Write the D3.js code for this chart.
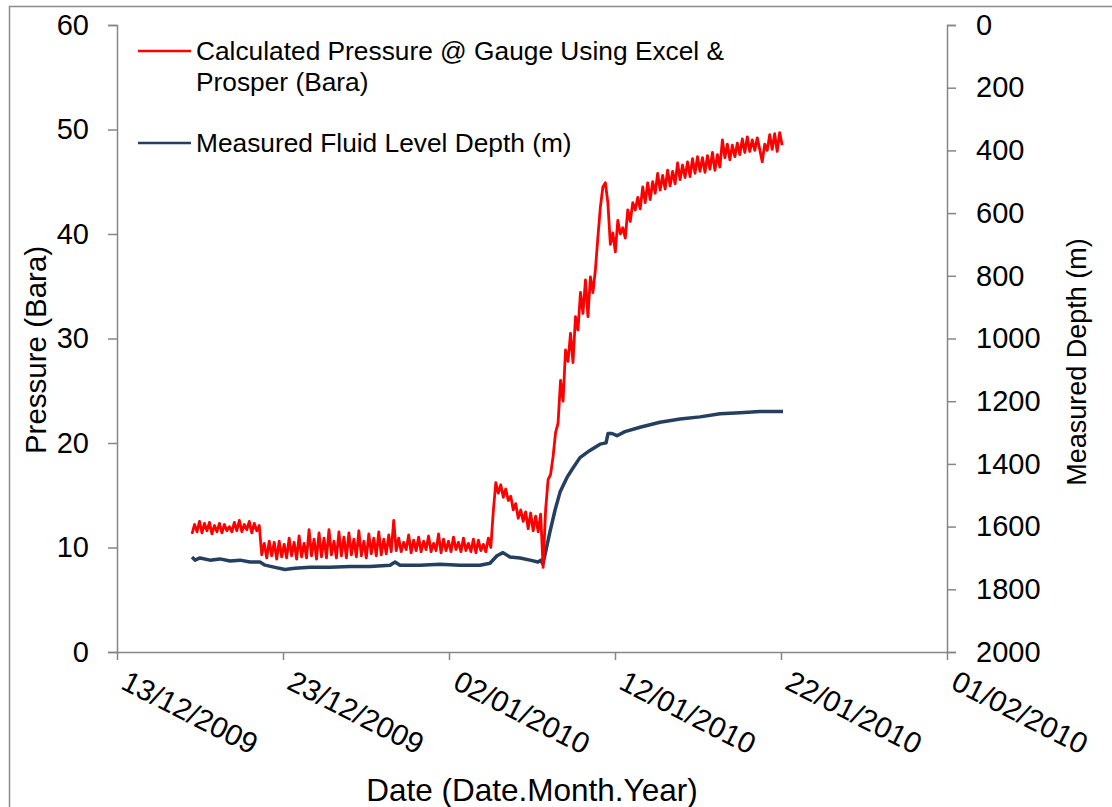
<!DOCTYPE html>
<html>
<head>
<meta charset="utf-8">
<script src="https://cdn.jsdelivr.net/npm/d3@7"></script>
<style>
  html, body { margin: 0; padding: 0; background: #fff; }
  svg { display: block; }
  text { font-family: "Liberation Sans", Arial, sans-serif; fill: #000; }
</style>
</head>
<body>
<svg id="chart" width="1112" height="807"></svg>
<script>
// ---------------- DATA ----------------
const xStartDate = "2009-12-13";
const xEndDate = "2010-02-01";
const xTickDates = ["2009-12-13", "2009-12-23", "2010-01-02", "2010-01-12", "2010-01-22", "2010-02-01"];
const xTickLabels = ["13/12/2009", "23/12/2009", "02/01/2010", "12/01/2010", "22/01/2010", "01/02/2010"];
const leftTicks = [0, 10, 20, 30, 40, 50, 60];
const rightTicks = [0, 200, 400, 600, 800, 1000, 1200, 1400, 1600, 1800, 2000];

// Calculated pressure (Bara), sampled every 0.15 day starting 4.52 days after 13/12/2009
const pressureStartDay = 4.52;
const pressureStepDay = 0.15;
const pressureValues = [
  11.3, 12.2, 11.5, 12.5, 11.4, 12.3, 11.6, 12.4, 11.3, 12.1, 11.5, 12.3, 11.4, 12.2,
  11.6, 12.0, 11.5, 12.4, 11.6, 12.6, 11.5, 12.2, 11.7, 12.5, 11.4, 12.3, 11.6, 12.1,
  9.3, 10.4, 9.0, 10.6, 9.2, 10.5, 8.9, 10.6, 9.1, 10.3, 9.0, 10.9, 9.2, 10.5, 8.9, 11.1,
  9.1, 10.4, 9.0, 11.7, 9.2, 10.8, 8.9, 11.4, 9.1, 10.9, 9.0, 11.7, 9.3, 10.6, 9.0, 11.5,
  9.2, 11.0, 9.0, 11.4, 9.3, 10.8, 9.1, 11.6, 9.2, 10.6, 9.0, 11.3, 9.4, 10.9, 9.2, 11.5,
  9.3, 10.8, 9.4, 11.2, 9.6, 12.6,
  9.7, 10.9, 9.6, 10.5, 9.8, 11.2, 9.5, 10.7, 9.7, 11.0, 9.6, 10.6, 9.8, 11.1, 9.6, 10.4,
  9.7, 11.3, 9.5, 10.8, 9.7, 10.6, 9.6, 11.0, 9.8, 10.5, 9.6, 10.9, 9.7, 10.4, 9.6, 10.8,
  9.5, 10.7, 9.7, 10.3, 9.6, 10.9,
  10.0, 13.5, 16.2, 15.2, 16.0, 14.8, 15.6, 14.5, 14.9, 13.6, 14.2, 12.8, 13.6, 12.5,
  13.4, 11.8, 13.3, 11.6, 13.0, 11.5, 13.2, 8.1, 13.6, 16.5, 17.0, 18.7, 21.0,
  21.9, 26.0, 24.0, 28.9, 27.8, 30.5, 27.7, 32.1, 30.8, 34.4, 32.4, 35.6, 32.1, 35.9,
  34.4, 36.6, 39.7, 42.6, 44.5, 44.9, 43.0, 39.0, 40.1, 38.3, 41.3, 40.0, 40.6, 39.6,
  42.3, 41.2, 43.0, 42.3, 43.5, 42.4, 44.5, 43.0, 44.9, 43.3, 45.0, 43.9, 45.8, 44.2,
  45.6, 44.3, 46.1, 44.6, 46.0, 44.8, 46.8, 45.2, 46.6, 45.4, 46.9, 45.5, 47.2, 45.8,
  47.4, 46.0, 47.3, 45.9, 47.5, 46.2, 47.8, 46.1, 47.6, 46.4, 49.0, 47.3, 48.6, 47.1,
  48.5, 47.4, 48.7, 47.6, 49.1, 47.8, 49.3, 47.9, 49.0, 48.0, 49.2, 48.1, 46.9, 48.6,
  48.0, 49.5, 48.1, 49.6, 47.9, 49.7, 48.5
];

// Measured fluid level depth (m), days after 13/12/2009
const depthDays = [
  4.52, 4.70, 5.00, 5.60, 6.20, 6.81, 7.41, 8.01, 8.61, 8.92, 9.52, 10.12, 10.72, 11.63,
  12.83, 14.04, 15.24, 16.45, 16.75, 17.05, 18.25, 19.46, 20.66, 21.87, 22.47, 22.89,
  23.25, 23.67, 24.28, 24.88, 25.36, 25.54, 25.66, 26.08, 26.39, 26.69, 27.11, 27.47,
  27.89, 28.49, 29.10, 29.46, 29.58, 29.82, 30.12, 30.60, 31.51, 32.71, 33.92, 35.12,
  36.33, 37.53, 38.73, 40.12
];
const depthValues = [
  1697, 1707, 1700, 1707, 1703, 1710, 1707, 1713, 1713, 1723, 1730, 1737, 1733, 1730,
  1730, 1727, 1727, 1723, 1713, 1723, 1723, 1720, 1723, 1723, 1717, 1693,
  1683, 1697, 1700, 1707, 1713, 1707, 1720, 1617, 1547, 1490, 1443, 1413,
  1380, 1357, 1337, 1333, 1303, 1303, 1310, 1297, 1283, 1267, 1257, 1250,
  1240, 1237, 1233, 1233
];

const legendLabels = [["Calculated Pressure @ Gauge Using Excel &", "Prosper (Bara)"], ["Measured Fluid Level Depth (m)"]];
const seriesColors = ["#ff0000", "#243f60"];

// ---------------- DRAW ----------------
const svg = d3.select("#chart");
const DAY = 86400000;
const parse = d3.timeParse("%Y-%m-%d");
const t0 = parse(xStartDate);
const FONT = "Liberation Sans, Arial, sans-serif";

const plot = { left: 117, right: 947, top: 25, bottom: 652 };
const x = d3.scaleTime().domain([t0, parse(xEndDate)]).range([plot.left, plot.right]);
const yL = d3.scaleLinear().domain([0, 60]).range([plot.bottom, plot.top]);
const yR = d3.scaleLinear().domain([0, 2000]).range([plot.top, plot.bottom]);

// outer border
svg.append("rect").attr("x", 9.5).attr("y", 6.5).attr("width", 1120).attr("height", 820)
  .attr("fill", "none").attr("stroke", "#8c8c8c").attr("stroke-width", 1.5);

const axisColor = "#868686";
function styleAxis(g) {
  g.selectAll("path.domain").attr("stroke", axisColor).attr("stroke-width", 1.5);
  g.selectAll(".tick line").attr("stroke", axisColor).attr("stroke-width", 1.5);
}

// left axis
const gL = svg.append("g").attr("transform", `translate(${plot.left},0)`)
  .call(d3.axisLeft(yL).tickValues(leftTicks).tickSize(9).tickSizeOuter(9).tickPadding(19).tickFormat(d3.format("d")));
styleAxis(gL);
gL.selectAll(".tick text").attr("font-size", 29).attr("font-family", FONT).attr("fill", "#000");

// right axis
const gR = svg.append("g").attr("transform", `translate(${plot.right},0)`)
  .call(d3.axisRight(yR).tickValues(rightTicks).tickSize(9).tickSizeOuter(9).tickPadding(20).tickFormat(d3.format("d")));
styleAxis(gR);
gR.selectAll(".tick text").attr("font-size", 29).attr("font-family", FONT).attr("fill", "#000");

// bottom axis
const tickDates = xTickDates.map(parse);
const gB = svg.append("g").attr("transform", `translate(0,${plot.bottom})`)
  .call(d3.axisBottom(x).tickValues(tickDates).tickSize(8).tickSizeOuter(0)
    .tickFormat((d, i) => xTickLabels[i]));
styleAxis(gB);
gB.selectAll(".tick text")
  .attr("font-size", 29.5).attr("font-family", FONT).attr("fill", "#000")
  .attr("text-anchor", "start").attr("dy", null).attr("y", 0).attr("x", 0)
  .attr("transform", "translate(2,36) rotate(27)");

// lines
const pressureData = pressureValues.map((v, i) => ({ t: new Date(+t0 + (pressureStartDay + i * pressureStepDay) * DAY), v }));
const depthData = depthDays.map((d, i) => ({ t: new Date(+t0 + d * DAY), v: depthValues[i] }));

svg.append("path").datum(depthData)
  .attr("fill", "none").attr("stroke", seriesColors[1]).attr("stroke-width", 3.5).attr("stroke-linejoin", "round")
  .attr("d", d3.line().x(d => x(d.t)).y(d => yR(d.v)));

svg.append("path").datum(pressureData)
  .attr("fill", "none").attr("stroke", seriesColors[0]).attr("stroke-width", 2.8).attr("stroke-linejoin", "round")
  .attr("d", d3.line().x(d => x(d.t)).y(d => yL(d.v)));

// axis titles
svg.append("text").attr("transform", "translate(46,350) rotate(-90)").attr("text-anchor", "middle")
  .attr("font-size", 29.5).text("Pressure (Bara)");
svg.append("text").attr("transform", "translate(1086,362) rotate(-90)").attr("text-anchor", "middle")
  .attr("font-size", 27).text("Measured Depth (m)");
svg.append("text").attr("x", 532).attr("y", 801).attr("text-anchor", "middle")
  .attr("font-size", 31.5).text("Date (Date.Month.Year)");

// legend
const legendY = [51, 143];
legendLabels.forEach((lines, k) => {
  svg.append("line").attr("x1", 138).attr("x2", 191).attr("y1", legendY[k]).attr("y2", legendY[k])
    .attr("stroke", seriesColors[k]).attr("stroke-width", 2.5);
  lines.forEach((s, j) => {
    svg.append("text").attr("x", 196).attr("y", legendY[k] + 9 + j * 31).attr("font-size", 26.3).text(s);
  });
});
</script>
</body>
</html>
